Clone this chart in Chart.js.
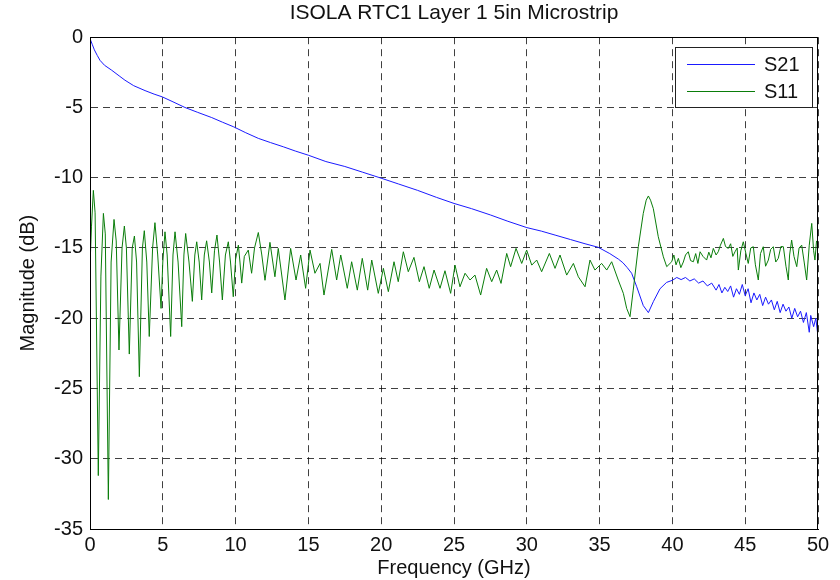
<!DOCTYPE html>
<html>
<head>
<meta charset="utf-8">
<script src="https://cdn.jsdelivr.net/npm/chart.js@4"></script>
<style>
  html, body { margin: 0; padding: 0; background: #fff; }
  canvas { display: block; }
</style>
</head>
<body>
<canvas id="c" width="840" height="580"></canvas>
<script>
const chartTitle = "ISOLA RTC1 Layer 1 5in Microstrip";
const xAxisTitle = "Frequency (GHz)";
const yAxisTitle = "Magnitude (dB)";
const xTicks = [0, 5, 10, 15, 20, 25, 30, 35, 40, 45, 50];
const yTicks = [0, -5, -10, -15, -20, -25, -30, -35];
const seriesNames = ["S21", "S11"];

const s21Freq = [0, 0.15, 0.3, 0.5, 0.69, 1.0, 1.49, 2.0, 2.4, 3.0, 3.78, 4.4, 4.97, 5.7, 6.52, 7.4, 8.36, 9.1, 9.87,
  10.7, 11.56, 12.4, 13.28, 14.1, 15.0, 16.2, 17.5, 18.7, 19.9, 21.2, 22.5, 23.8, 25.0, 26.2, 27.5, 28.7, 30.0,
  31.0, 32.0, 33.0, 34.0, 34.9, 35.7, 36.3, 36.6, 36.9, 37.2, 37.55, 38.0, 38.35, 38.7, 39.15, 39.6,
  40.0, 40.3, 40.6, 40.9, 41.2, 41.5, 41.8, 42.1, 42.4, 42.7, 43.0, 43.2, 43.4, 43.6, 43.8, 44.0, 44.2, 44.4,
  44.6, 44.8, 45.0, 45.2, 45.4, 45.6, 45.8, 46.0, 46.2, 46.4, 46.6, 46.8, 47.0, 47.2, 47.4, 47.6, 47.8, 48.0,
  48.2, 48.4, 48.6, 48.8, 49.0, 49.2, 49.4, 49.5, 49.7, 49.85, 50.0];
const s21Mag = [-0.1, -0.5, -0.9, -1.3, -1.65, -2.0, -2.35, -2.75, -3.06, -3.45, -3.8, -4.05, -4.25, -4.6, -5.0, -5.35, -5.72, -6.05, -6.38,
  -6.8, -7.2, -7.5, -7.8, -8.1, -8.4, -8.85, -9.2, -9.6, -10.0, -10.45, -10.9, -11.4, -11.83, -12.2, -12.65, -13.1, -13.55,
  -13.8, -14.1, -14.4, -14.7, -14.95, -15.4, -15.8, -16.05, -16.4, -16.8, -17.76, -19.1, -19.6, -18.8, -17.9, -17.45,
  -17.3, -17.1, -17.25, -17.1, -17.35, -17.2, -17.5, -17.35, -17.7, -17.5, -18.0, -17.6, -18.2, -17.8, -18.1, -17.7, -18.5, -17.9,
  -18.3, -17.6, -18.4, -17.9, -18.9, -18.2, -18.7, -18.3, -19.1, -18.5, -19.0, -18.7, -19.4, -18.8, -19.6, -19.0, -19.5, -19.2,
  -20.0, -19.3, -19.9, -19.5, -20.3, -19.6, -21.0, -19.8, -20.6, -20.0, -21.3];

const s11Freq = [0.0, 0.1, 0.23, 0.35, 0.57, 0.75, 0.92, 1.05, 1.26, 1.45, 1.65, 1.8, 1.99, 2.2, 2.36, 2.5, 2.7, 2.9,
  3.05, 3.2, 3.39, 3.6, 3.73, 3.9, 4.07, 4.3, 4.46, 4.65, 4.88, 5.0, 5.15, 5.3, 5.54, 5.7, 5.84, 6.05, 6.3, 6.45,
  6.57, 6.8, 7.03, 7.2, 7.33, 7.5, 7.67, 7.85, 8.01, 8.2, 8.36, 8.55, 8.72, 8.9, 9.09, 9.3, 9.5, 9.65, 9.84, 10.0,
  10.19, 10.3, 10.42, 10.6, 10.87, 11.1, 11.3, 11.56, 11.8, 12.02, 12.36, 12.7, 12.93, 13.39, 13.78, 14.15, 14.47,
  14.81, 15.11, 15.45, 15.8, 16.07, 16.6, 16.94, 17.22, 17.67, 17.97, 18.36, 18.7, 19.07, 19.35, 19.8, 20.15, 20.49,
  20.88, 21.17, 21.52, 21.86, 22.25, 22.62, 22.94, 23.3, 23.63, 24.04, 24.38, 24.77, 25.07, 25.41, 25.76, 26.1,
  26.44, 26.83, 27.24, 27.59, 27.93, 28.23, 28.62, 28.89, 29.26, 29.65, 29.99, 30.34, 30.68, 31.02, 31.55, 31.94,
  32.28, 32.74, 33.2, 33.54, 34.0, 34.34, 34.68, 35.14, 35.49, 35.83, 36.28, 36.63, 36.86, 37.09, 37.31, 37.66,
  38.0, 38.2, 38.35, 38.5, 38.69, 39.03, 39.38, 39.61, 39.95, 40.1, 40.25, 40.41, 40.58, 40.75, 40.9, 41.09, 41.25,
  41.44, 41.6, 41.75, 41.9, 42.1, 42.35, 42.5, 42.65, 42.81, 43.0, 43.15, 43.3, 43.5, 43.65, 43.84, 44.0, 44.15,
  44.3, 44.45, 44.53, 44.7, 44.87, 45.05, 45.21, 45.38, 45.56, 45.7, 45.9, 46.05, 46.24, 46.4, 46.59, 46.75, 46.93,
  47.1, 47.27, 47.45, 47.62, 47.8, 47.96, 48.05, 48.19, 48.35, 48.54, 48.7, 48.88, 49.05, 49.22, 49.4, 49.57, 49.7,
  49.79, 49.9, 50.0];
const s11Mag = [-16.3, -13.5, -10.9, -12.5, -31.2, -17.0, -12.54, -14.0, -32.9, -16.0, -12.97, -14.5, -22.26, -15.0, -13.44, -15.0, -22.55, -15.0,
  -14.15, -16.0, -24.16, -15.0, -13.77, -16.0, -21.3, -15.0, -13.2, -15.5, -19.3, -16.0, -13.85, -15.5, -21.3, -15.5, -13.85, -16.0, -20.6, -15.5,
  -13.97, -16.0, -18.8, -15.5, -14.56, -16.0, -18.7, -15.5, -14.49, -16.0, -18.2, -15.2, -14.08, -16.0, -18.7, -15.5, -14.56, -16.0, -18.47, -15.8,
  -14.8, -16.0, -17.5, -15.6, -15.15, -16.8, -15.0, -13.9, -15.5, -17.3, -14.6, -17.05, -15.03, -18.7, -15.03, -17.28, -15.5,
  -17.87, -15.15, -16.8, -16.1, -18.35, -15.1, -17.28, -15.5, -17.87, -15.98, -18.0, -15.74, -18.0, -15.86, -18.23, -16.45, -18.11,
  -15.98, -17.4, -15.27, -16.69, -15.67, -17.4, -16.33, -17.87, -16.57, -17.87, -16.62, -18.23, -16.22, -17.76, -16.8, -17.28,
  -16.93, -18.35, -16.45, -17.4, -16.57, -17.52, -15.39, -16.33, -15.03, -16.1, -15.15, -16.22, -15.86, -16.69, -15.39, -16.45,
  -15.5, -16.93, -16.1, -17.05, -17.76, -15.86, -16.57, -16.1, -16.57, -15.98, -17.28, -18.23, -19.3, -19.89, -18.0, -14.91,
  -12.54, -11.6, -11.3, -11.6, -12.2, -14.2, -15.63, -16.33, -15.98, -15.5, -16.2, -15.74, -16.4, -16.0, -15.5, -15.27, -15.9,
  -15.98, -15.4, -16.1, -15.27, -15.6, -15.86, -15.3, -15.7, -15.03, -15.5, -15.27, -14.8, -14.32, -14.9, -15.03, -14.7, -15.6,
  -15.27, -15.0, -16.57, -15.2, -14.56, -15.4, -16.1, -15.0, -14.91, -16.2, -17.28, -15.4, -14.91, -16.3, -15.86, -15.1, -14.91,
  -16.0, -15.74, -14.9, -14.91, -16.3, -17.28, -15.5, -14.44, -15.6, -16.33, -15.0, -14.8, -16.0, -17.28, -14.8, -13.25, -15.2,
  -15.86, -14.5, -14.67];

const s21Color = '#1a1aff';
const s11Color = '#0a7d0a';
const FONT = "'Liberation Sans', Arial, sans-serif";

const toPoints = (xs, ys) => xs.map((x, i) => ({ x: x, y: ys[i] }));

const framePlugin = {
  id: 'frameAndLegend',
  afterDraw(chart) {
    const { ctx, chartArea: a } = chart;
    ctx.save();
    ctx.strokeStyle = '#000';
    ctx.lineWidth = 1;
    ctx.setLineDash([]);
    ctx.strokeRect(Math.round(a.left) + 0.5, Math.round(a.top) + 0.5,
      Math.round(a.right - a.left) - 1, Math.round(a.bottom - a.top));
    // legend box
    const lx = 675, ly = 47, lw = 137, lh = 60;
    ctx.fillStyle = '#fff';
    ctx.fillRect(lx, ly, lw, lh);
    ctx.strokeStyle = '#222';
    ctx.strokeRect(lx + 0.5, ly + 0.5, lw, lh);
    const items = [
      { label: chart.data.datasets[0].label, color: s21Color, y: 64 },
      { label: chart.data.datasets[1].label, color: s11Color, y: 91 }
    ];
    ctx.font = '20px ' + FONT;
    ctx.textBaseline = 'middle';
    ctx.textAlign = 'left';
    items.forEach(it => {
      ctx.strokeStyle = it.color;
      ctx.beginPath();
      ctx.moveTo(687, it.y + 0.5);
      ctx.lineTo(755, it.y + 0.5);
      ctx.stroke();
      ctx.fillStyle = '#111';
      ctx.fillText(it.label, 764, it.y + 1);
    });
    ctx.restore();
  }
};

new Chart(document.getElementById('c'), {
  type: 'line',
  data: {
    datasets: [
      { label: seriesNames[0], data: toPoints(s21Freq, s21Mag), borderColor: s21Color, borderWidth: 1,
        pointRadius: 0, tension: 0, fill: false, order: 2 },
      { label: seriesNames[1], data: toPoints(s11Freq, s11Mag), borderColor: s11Color, borderWidth: 1,
        pointRadius: 0, tension: 0, fill: false, order: 1 }
    ]
  },
  options: {
    responsive: false,
    animation: false,
    layout: { padding: { top: 0, right: 22, bottom: 0, left: 0 } },
    plugins: {
      legend: { display: false },
      tooltip: { enabled: false },
      title: {
        display: true, text: chartTitle, fullSize: false, color: '#111',
        font: { family: FONT, size: 21, weight: 'normal' },
        padding: { top: 1, bottom: 11 }
      }
    },
    scales: {
      x: {
        type: 'linear', min: 0, max: 50,
        afterBuildTicks: s => { s.ticks = xTicks.map(v => ({ value: v })); },
        afterFit: s => { s.height = 51; },
        ticks: { color: '#111', font: { family: FONT, size: 20 }, padding: 4, maxRotation: 0 },
        grid: { color: 'rgba(0,0,0,0.75)', lineWidth: 1, drawTicks: false },
        border: { display: true, color: '#000', dash: [7, 5] },
        title: { display: true, text: xAxisTitle, color: '#111', font: { family: FONT, size: 20 }, padding: { top: 0, bottom: 0 } }
      },
      y: {
        type: 'linear', min: -35, max: 0,
        afterBuildTicks: s => { s.ticks = yTicks.map(v => ({ value: v })); },
        afterFit: s => { s.width = 90; },
        ticks: { color: '#111', font: { family: FONT, size: 20 }, padding: 7 },
        grid: { color: 'rgba(0,0,0,0.75)', lineWidth: 1, drawTicks: false },
        border: { display: true, color: '#000', dash: [7, 5] },
        title: { display: true, text: yAxisTitle, color: '#111', font: { family: FONT, size: 20 }, padding: { top: 16, bottom: 0 } }
      }
    }
  },
  plugins: [framePlugin]
});
</script>
</body>
</html>
